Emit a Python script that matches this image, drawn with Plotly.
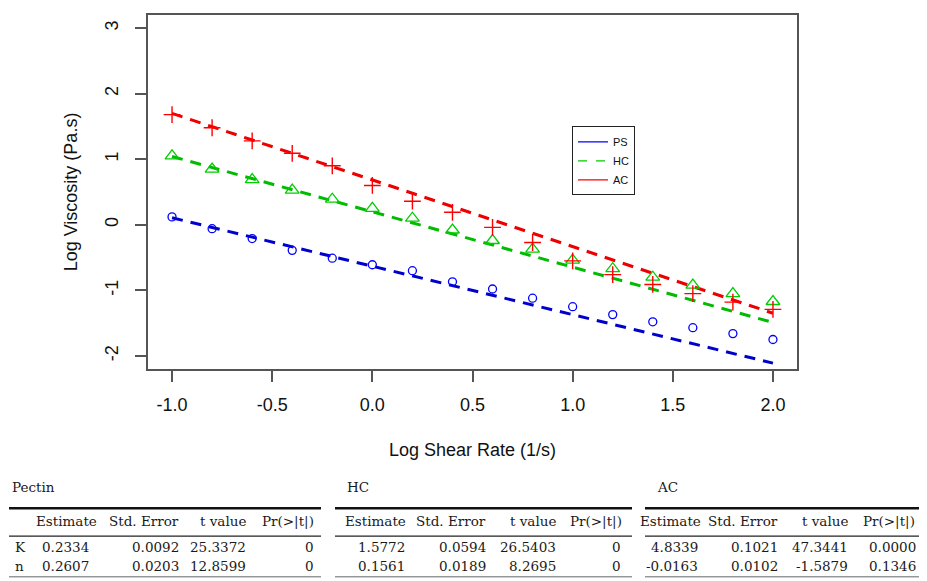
import plotly.graph_objects as go

# ---------------- data ----------------
shear = [-1.0, -0.8, -0.6, -0.4, -0.2, 0.0, 0.2, 0.4, 0.6, 0.8, 1.0, 1.2, 1.4, 1.6, 1.8, 2.0]
ps_visc = [0.12, -0.06, -0.21, -0.39, -0.51, -0.61, -0.70, -0.87, -0.98, -1.12, -1.25, -1.37, -1.48, -1.57, -1.66, -1.75]
hc_visc = [1.05, 0.85, 0.69, 0.53, 0.39, 0.25, 0.10, -0.08, -0.24, -0.37, -0.54, -0.67, -0.80, -0.92, -1.05, -1.17]
ac_visc = [1.68, 1.48, 1.28, 1.09, 0.90, 0.60, 0.36, 0.19, -0.04, -0.27, -0.55, -0.76, -0.91, -1.05, -1.18, -1.29]

fit_x = [-1.0, 2.0]
ps_fit = [0.107, -2.110]
hc_fit = [1.042, -1.490]
ac_fit = [1.700, -1.349]

series_names = ["PS", "HC", "AC"]

x_tickvals = [-1.0, -0.5, 0.0, 0.5, 1.0, 1.5, 2.0]
x_ticktext = ["-1.0", "-0.5", "0.0", "0.5", "1.0", "1.5", "2.0"]
y_tickvals = [-2, -1, 0, 1, 2, 3]
y_ticktext = ["-2", "-1", "0", "1", "2", "3"]

table_titles = ["Pectin", "HC", "AC"]
table_header = ["Estimate", "Std. Error", "t value", "Pr(>|t|)"]
row_labels = ["K", "n"]
pectin_rows = [["0.2334", "0.0092", "25.3372", "0"], ["0.2607", "0.0203", "12.8599", "0"]]
hc_rows = [["1.5772", "0.0594", "26.5403", "0"], ["0.1561", "0.0189", "8.2695", "0"]]
ac_rows = [["4.8339", "0.1021", "47.3441", "0.0000"], ["-0.0163", "0.0102", "-1.5879", "0.1346"]]

# ---------------- figure ----------------
BLUE = "#0000FF"
GREEN = "#00CD00"
RED = "#FF0000"
AX = "#555555"

fig = go.Figure()
dash = "11px,8px"
fig.add_trace(go.Scatter(x=fit_x, y=ps_fit, mode="lines", line=dict(color="#0000CD", width=3, dash=dash), showlegend=False))
fig.add_trace(go.Scatter(x=fit_x, y=hc_fit, mode="lines", line=dict(color="#00BB00", width=3, dash=dash), showlegend=False))
fig.add_trace(go.Scatter(x=fit_x, y=ac_fit, mode="lines", line=dict(color="#EE0000", width=3, dash=dash), showlegend=False))

fig.add_trace(go.Scatter(x=shear, y=ps_visc, mode="markers", showlegend=False,
                         marker=dict(symbol="circle-open", size=8, color=BLUE, line=dict(width=1.3))))
fig.add_trace(go.Scatter(x=shear, y=hc_visc, mode="markers", showlegend=False,
                         marker=dict(symbol="triangle-up-open", size=12, color=GREEN, line=dict(width=1.3))))
fig.add_trace(go.Scatter(x=shear, y=ac_visc, mode="markers", showlegend=False,
                         marker=dict(symbol="cross-thin-open", size=12, color=RED, line=dict(width=1.4))))

# legend-only entries (lines as in the original legend)
for name, col, dsh in zip(series_names, [BLUE, GREEN, RED], ["solid", "dash", "solid"]):
    fig.add_trace(go.Scatter(x=[None], y=[None], mode="lines", name=name,
                             line=dict(color=col, width=1.2, dash=dsh)))

# target pixel positions in the page (the page body adds an 8px offset)
OFF = 8
L, R, T, B = 148, 797, 13, 369
W, H = 927 - OFF, 581 - OFF


def pxx(v):
    return (v - L) / (R - L)


def pyy(v):
    return (B - v) / (B - T)


fig.update_layout(
    width=W, height=H, autosize=False,
    margin=dict(l=L - OFF, r=W - (R - OFF), t=T - OFF, b=H - (B - OFF), pad=0),
    paper_bgcolor="white", plot_bgcolor="white",
    font=dict(family="Liberation Sans, Arial, sans-serif", color="#111111"),
    legend=dict(x=pxx(572), y=pyy(125), xanchor="left", yanchor="top",
                bordercolor="#222222", borderwidth=1, bgcolor="white",
                font=dict(size=11, family="Liberation Sans, Arial, sans-serif"),
                itemwidth=30, tracegroupgap=0),
    showlegend=True,
)
fig.update_xaxes(range=[-1.12, 2.12], tickvals=x_tickvals, ticktext=x_ticktext,
                 showgrid=False, zeroline=False, showline=True, mirror=True,
                 linecolor=AX, linewidth=1.5, ticks="outside", ticklen=11, tickcolor=AX, tickwidth=1.5,
                 tickfont=dict(size=18), ticklabelstandoff=8,
                 title=dict(text="Log Shear Rate (1/s)", font=dict(size=18), standoff=29))
fig.update_yaxes(range=[-2.2, 3.2], tickvals=y_tickvals, ticktext=y_ticktext, tickangle=-90,
                 showgrid=False, zeroline=False, showline=True, mirror=True,
                 linecolor=AX, linewidth=1.5, ticks="outside", ticklen=11, tickcolor=AX, tickwidth=1.5,
                 tickfont=dict(size=18), ticklabelstandoff=10,
                 title=dict(text="Log Viscosity (Pa.s)", font=dict(size=18), standoff=20))

# ---------------- tables ----------------
SERIF = "DejaVu Serif, Liberation Serif, serif"
TFS = 13.5
TCOL = "#1a1a1a"
tables = [
    dict(rows=pectin_rows, name=table_titles[0], rule=(9, 321), title_x=10,
         head_r=[99, 181, 248, 316], val_r=[91, 181, 248, 316], labels=True),
    dict(rows=hc_rows, name=table_titles[1], rule=(335, 632), title_x=345,
         head_r=[408, 488, 558, 624], val_r=[407, 488, 558, 623], labels=False),
    dict(rows=ac_rows, name=table_titles[2], rule=(645, 927), title_x=655,
         head_r=[703, 780, 850, 917], val_r=[700, 780, 850, 918], labels=False),
]
Y_TITLE, Y_TOP, Y_HEAD, Y_MID, Y_ROWS, Y_BOT = 488, 509, 522, 537, [548, 567], 578

ann = []
shapes = []
for t in tables:
    rows = t["rows"]
    ann.append(dict(x=pxx(t["title_x"]), y=pyy(Y_TITLE), xref="paper", yref="paper", text=t["name"],
                    showarrow=False, xanchor="left", yanchor="middle", font=dict(family=SERIF, size=TFS, color=TCOL)))
    for h, xr in zip(table_header, t["head_r"]):
        ann.append(dict(x=pxx(xr), y=pyy(Y_HEAD), xref="paper", yref="paper", text=h, showarrow=False,
                        xanchor="right", yanchor="middle", font=dict(family=SERIF, size=TFS, color=TCOL)))
    for ri, row in enumerate(rows):
        if t["labels"]:
            ann.append(dict(x=pxx(13), y=pyy(Y_ROWS[ri]), xref="paper", yref="paper", text=row_labels[ri],
                            showarrow=False, xanchor="left", yanchor="middle",
                            font=dict(family=SERIF, size=TFS, color=TCOL)))
        for v, xr in zip(row, t["val_r"]):
            ann.append(dict(x=pxx(xr), y=pyy(Y_ROWS[ri]), xref="paper", yref="paper", text=v, showarrow=False,
                            xanchor="right", yanchor="middle", font=dict(family=SERIF, size=TFS, color=TCOL)))
    x0, x1 = t["rule"]
    shapes.append(dict(type="line", xref="paper", yref="paper", x0=pxx(x0), x1=pxx(x1), y0=pyy(Y_TOP), y1=pyy(Y_TOP),
                       line=dict(color="#111", width=2.5)))
    shapes.append(dict(type="line", xref="paper", yref="paper", x0=pxx(x0), x1=pxx(x1), y0=pyy(Y_MID), y1=pyy(Y_MID),
                       line=dict(color="#222", width=1.2)))
    shapes.append(dict(type="line", xref="paper", yref="paper", x0=pxx(x0), x1=pxx(x1), y0=pyy(Y_BOT), y1=pyy(Y_BOT),
                       line=dict(color="#666", width=1)))

fig.update_layout(annotations=ann, shapes=shapes)
fig.write_html("out.html")
